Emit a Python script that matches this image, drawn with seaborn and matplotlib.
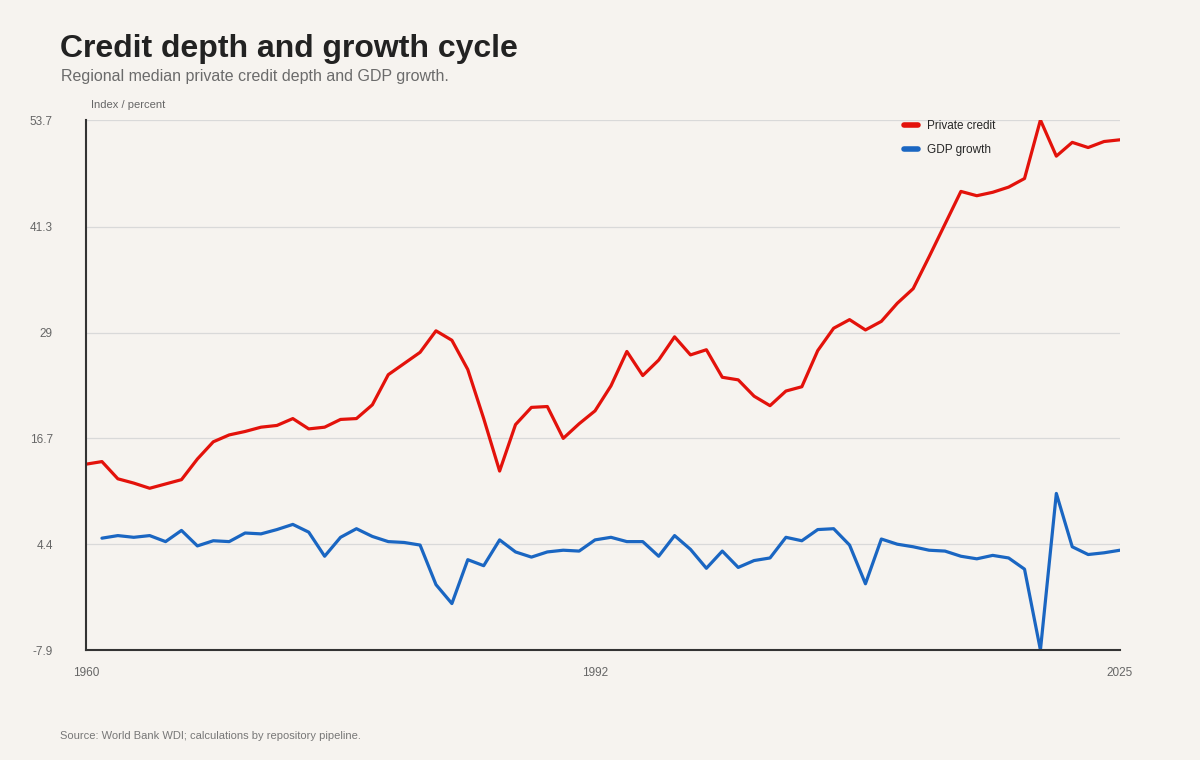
import numpy as np
import pandas as pd
import matplotlib.pyplot as plt
import seaborn as sns

# values
years_credit = list(range(1960, 2026))
private_credit = [13.7, 14.0, 12.0, 11.5, 10.9, 11.4, 11.9, 14.3, 16.3, 17.1,
                  17.5, 18.0, 18.2, 19.0, 17.8, 18.0, 18.9, 19.0, 20.6, 24.1,
                  25.4, 26.7, 29.2, 28.1, 24.7, 19.0, 12.9, 18.3, 20.3, 20.4,
                  16.7, 18.4, 19.9, 22.8, 26.8, 24.0, 25.8, 28.5, 26.4, 27.0,
                  23.8, 23.5, 21.6, 20.5, 22.2, 22.7, 26.9, 29.5, 30.5, 29.3,
                  30.3, 32.4, 34.1, 37.8, 41.6, 45.4, 44.9, 45.3, 45.9, 46.9,
                  53.7, 49.5, 51.1, 50.5, 51.2, 51.4]

years_gdp = list(range(1961, 2026))
gdp_growth = [5.1, 5.4, 5.2, 5.4, 4.7, 6.0, 4.2, 4.8, 4.7, 5.7,
              5.6, 6.1, 6.7, 5.8, 3.0, 5.2, 6.2, 5.3, 4.7, 4.6,
              4.3, -0.3, -2.5, 2.6, 1.9, 4.9, 3.5, 2.9, 3.5, 3.7,
              3.6, 4.9, 5.2, 4.7, 4.7, 3.0, 5.4, 3.8, 1.6, 3.6,
              1.7, 2.5, 2.8, 5.2, 4.8, 6.1, 6.2, 4.3, -0.2, 5.0,
              4.4, 4.1, 3.7, 3.6, 3.0, 2.7, 3.1, 2.8, 1.5, -7.9,
              10.3, 4.1, 3.2, 3.4, 3.7]

ytick_vals = [53.7, 41.3, 29.0, 16.7, 4.4, -7.9]
ytick_labels = ["53.7", "41.3", "29", "16.7", "4.4", "-7.9"]
xtick_vals = [1960, 1992, 2025]

df = pd.concat([
    pd.DataFrame({"year": years_credit, "value": private_credit, "series": "Private credit"}),
    pd.DataFrame({"year": years_gdp, "value": gdp_growth, "series": "GDP growth"}),
])

bg = "#f6f3ef"
sns.set_theme(style="white")
plt.rcParams["font.family"] = ["Liberation Sans", "DejaVu Sans"]

fig = plt.figure(figsize=(12, 7.6), dpi=100, facecolor=bg)
ax = fig.add_axes([0.0717, 0.1447, 0.8616, 0.6974])
ax.set_facecolor(bg)

sns.lineplot(data=df, x="year", y="value", hue="series",
             palette={"Private credit": "#e3120b", "GDP growth": "#1a66c2"},
             linewidth=2.3, ax=ax)

ax.set_xlim(1960, 2025)
ax.set_ylim(-7.9, 53.7)
ax.set_yticks(ytick_vals)
ax.set_yticklabels(ytick_labels)
ax.set_xticks(xtick_vals)
ax.set_xticklabels([str(x) for x in xtick_vals])
ax.tick_params(axis="y", length=0, pad=24, labelsize=8.5, labelcolor="#666666")
ax.tick_params(axis="x", length=0, pad=12, labelsize=8.5, labelcolor="#666666")
ax.grid(axis="y", color="#d9d9d9", linewidth=0.9)
ax.set_axisbelow(True)
ax.set_xlabel("")
ax.set_ylabel("")

for s in ["top", "right"]:
    ax.spines[s].set_visible(False)
for s in ["left", "bottom"]:
    ax.spines[s].set_color("#333333")
    ax.spines[s].set_linewidth(1.5)

leg = ax.legend(loc="upper left", bbox_to_anchor=(0.781, 1.02), frameon=False,
                fontsize=8.5, handlelength=1.2, handletextpad=0.75, labelspacing=1.0)
for line in leg.get_lines():
    line.set_linewidth(4)

fig.text(0.05, 0.936, "Credit depth and growth cycle", fontsize=23, fontweight="bold",
         color="#222222", va="center")
fig.text(0.051, 0.900, "Regional median private credit depth and GDP growth.",
         fontsize=11.5, color="#6b6b6b", va="center")
fig.text(0.076, 0.862, "Index / percent", fontsize=8, color="#666666", va="center")
fig.text(0.05, 0.032, "Source: World Bank WDI; calculations by repository pipeline.",
         fontsize=8, color="#777777", va="center")

fig.savefig("out.png", dpi=100, facecolor=bg)
